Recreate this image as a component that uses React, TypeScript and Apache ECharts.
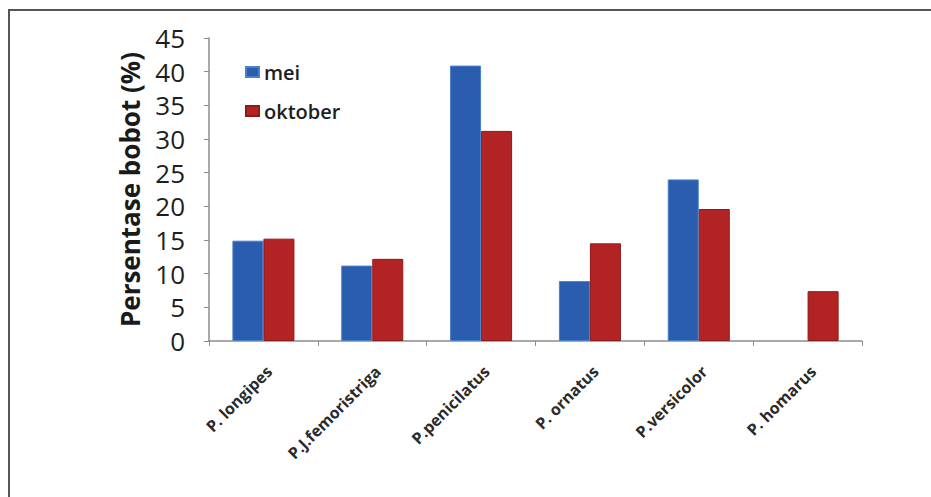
import React, { useEffect, useRef } from "react";
import * as echarts from "echarts";

// Species on the category axis
const species = [
  "P. longipes",
  "P.J.femoristriga",
  "P.penicilatus",
  "P. ornatus",
  "P.versicolor",
  "P. homarus",
];

// Weight percentage per sampling month
const meiValues: (number | null)[] = [14.9, 11.2, 40.9, 8.9, 24.0, null];
const oktoberValues: number[] = [15.2, 12.2, 31.2, 14.5, 19.6, 7.4];

const yTicks = { min: 0, max: 45, interval: 5 };

const FONT = "'Open Sans', 'Liberation Sans', sans-serif";

export default function App() {
  const ref = useRef<HTMLDivElement>(null);

  useEffect(() => {
    document.body.style.margin = "0";
    if (!ref.current) return;
    const chart = echarts.init(ref.current, undefined, { renderer: "svg" });
    chart.setOption({
      animation: false,
      backgroundColor: "#ffffff",
      textStyle: { fontFamily: FONT },
      graphic: [
        {
          type: "polyline",
          shape: { points: [[9, 497], [9, 10], [931, 10]] },
          style: { stroke: "#555555", lineWidth: 2, fill: "none" },
          silent: true,
        },
      ],
      legend: {
        orient: "vertical",
        left: 240,
        top: 57,
        itemWidth: 13,
        itemHeight: 10,
        itemGap: 19,
        icon: "rect",
        textStyle: { fontFamily: FONT, fontSize: 20, fontWeight: 600, color: "#1e1e1e" },
        data: ["mei", "oktober"],
      },
      grid: { left: 209, right: 69, top: 38, bottom: 156 },
      xAxis: {
        type: "category",
        data: species,
        axisLine: { lineStyle: { color: "#8c8c8c", width: 1.5 } },
        axisTick: { show: true, length: 5, lineStyle: { color: "#8c8c8c" } },
        axisLabel: {
          rotate: 45,
          margin: 22,
          verticalAlign: "top",
          interval: 0,
          fontFamily: FONT,
          fontSize: 16,
          fontWeight: "bold",
          color: "#2a2a2a",
        },
      },
      yAxis: {
        type: "value",
        min: yTicks.min,
        max: yTicks.max,
        interval: yTicks.interval,
        name: "Persentase bobot (%)",
        nameLocation: "middle",
        nameGap: 66,
        nameTextStyle: {
          fontFamily: FONT,
          fontSize: 26,
          fontWeight: "bold",
          color: "#1a1a1a",
        },
        axisLine: { show: true, lineStyle: { color: "#8c8c8c", width: 1.5 } },
        axisTick: { show: true, length: 5, lineStyle: { color: "#8c8c8c" } },
        splitLine: { show: false },
        axisLabel: {
          margin: 24,
          fontFamily: FONT,
          fontSize: 26,
          color: "#1e1e1e",
        },
      },
      series: [
        {
          name: "mei",
          type: "bar",
          data: meiValues,
          barGap: "0%",
          barCategoryGap: "43%",
          itemStyle: { color: "#2B5DAE", borderColor: "#4A80CC", borderWidth: 1 },
        },
        {
          name: "oktober",
          type: "bar",
          data: oktoberValues,
          barGap: "0%",
          barCategoryGap: "43%",
          itemStyle: { color: "#B22424", borderColor: "#8E1A1A", borderWidth: 1 },
        },
      ],
    });
    return () => chart.dispose();
  }, []);

  return <div ref={ref} style={{ width: 931, height: 497 }} />;
}
